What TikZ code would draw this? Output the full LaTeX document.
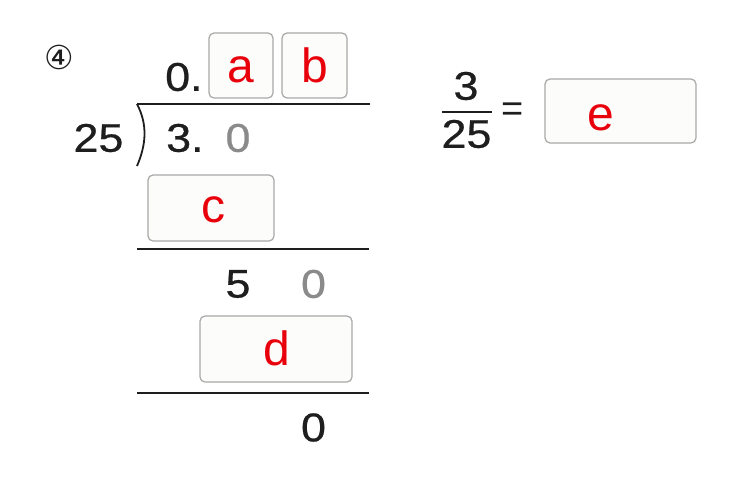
\documentclass[tikz,border=0pt]{standalone}
\usepackage{fontspec}
\setmainfont{Liberation Sans}
\newfontfamily\digf[FakeStretch=1.12,FakeBold=0.6]{Liberation Sans}
\newfontfamily\symf{DejaVu Sans}
\definecolor{ink}{HTML}{1E1E1E}
\definecolor{dim}{HTML}{8A8A8A}
\definecolor{ans}{HTML}{E8000B}
\definecolor{boxline}{HTML}{A8A8A8}
\definecolor{boxfill}{HTML}{FCFCFA}
\begin{document}
\begin{tikzpicture}[x=1pt,y=-1pt,
  dig/.style={inner sep=0pt,text=ink,font=\digf\fontsize{40}{40}\selectfont},
  dimdig/.style={dig,text=dim},
  ansbox/.style={draw=boxline,fill=boxfill,line width=1.2pt,rounded corners=5pt},
  anstxt/.style={inner sep=0pt,anchor=base,text=ans,font=\fontsize{48}{48}\selectfont},
  rule/.style={draw=ink,line width=2pt}]
\useasboundingbox (0,0) rectangle (744,480);
% label
\node[inner sep=0pt,text=ink,font=\symf\fontsize{33}{33}\selectfont] (num) at (59,57) {④};
% quotient
\node[dig,anchor=west] (q0) at (165,77) {0.};
\draw[ansbox] (209,33) rectangle (273,98);
\node[anstxt] (la) at (241,82) {a};
\draw[ansbox] (282,33) rectangle (347,98);
\node[anstxt] (lb) at (315,82) {b};
% bracket and top line
\coordinate (tl) at (137,104);
\coordinate (tr) at (370,104);
\coordinate (bb) at (137,166);
\draw[rule,line width=1.8pt] (tr) -- (tl);
\draw[ink,line width=1.8pt] (tl) .. controls (148,125) and (146,145) .. (bb);
% dividend
\node[dig] (dv) at (98.5,138) {25};
\node[dig,anchor=west] (d3) at (166,138) {3.};
\node[dimdig] (d0) at (238,138) {0};
% c
\draw[ansbox] (148,175) rectangle (274,241);
\node[anstxt] (lc) at (213,222) {c};
\draw[rule] (137,249) -- (369,249);
% remainder
\node[dig] (r5) at (238,284) {5};
\node[dimdig] (r0) at (313.5,284) {0};
% d
\draw[ansbox] (200,316) rectangle (352,382);
\node[anstxt] (ld) at (277,365) {d};
\draw[rule] (137,393) -- (369,393);
\node[dig] (fin) at (313.5,427.5) {0};
% fraction
\node[dig] (fn) at (466,86) {3};
\draw[rule] (442,112) -- (492,112);
\node[dig] (fd) at (466.5,134) {25};
\node[inner sep=0pt,text=ink,font=\fontsize{38}{38}\selectfont] (eq) at (512.5,112.5) {=};
\draw[ansbox] (545,79) rectangle (696,143);
\node[anstxt] (le) at (601,130) {e};
\end{tikzpicture}
\end{document}
